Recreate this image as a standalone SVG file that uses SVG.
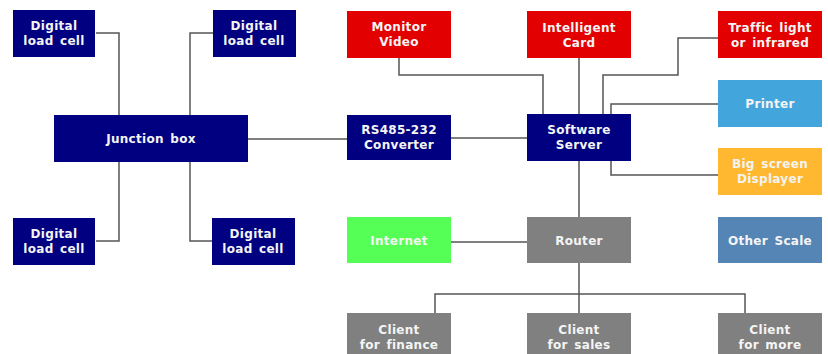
<svg xmlns="http://www.w3.org/2000/svg" width="828" height="354" viewBox="0 0 828 354">
<style>
text{font-family:"DejaVu Sans",Verdana,sans-serif;font-weight:bold;font-size:12px;fill:#f4f4f4;text-anchor:middle;word-spacing:2px;letter-spacing:0.3px}
.navy{fill:#000080}.red{fill:#e30000}.gray{fill:#808080}
.c{fill:none;stroke:#555;stroke-width:1.5}
</style>
<rect width="828" height="354" fill="#fff"/>
<g id="connectors">
<polyline class="c" points="96,33 119,33 119,115"/>
<polyline class="c" points="213,33 190,33 190,115"/>
<polyline class="c" points="96,241 119,241 119,162"/>
<polyline class="c" points="212,241 190,241 190,162"/>
<line class="c" x1="248" y1="139" x2="347" y2="139"/>
<line class="c" x1="451" y1="138" x2="527" y2="138"/>
<polyline class="c" points="399,58 399,75 543,75 543,114"/>
<line class="c" x1="579" y1="58" x2="579" y2="114"/>
<polyline class="c" points="718,38 678,38 678,75 603,75 603,114"/>
<polyline class="c" points="718,104 611,104 611,114"/>
<polyline class="c" points="718,175 611,175 611,161"/>
<line class="c" x1="579" y1="161" x2="579" y2="217"/>
<line class="c" x1="451" y1="242" x2="527" y2="242"/>
<line class="c" x1="579" y1="263" x2="579" y2="313"/>
<polyline class="c" points="435,313 435,294 745,294 745,313"/>
</g>
<g id="cell-tl"><rect class="navy" x="13" y="10" width="82" height="47"/><text x="54" y="30">Digital</text><text x="54" y="45">load cell</text></g>
<g id="cell-tr"><rect class="navy" x="213" y="10" width="83" height="47"/><text x="254" y="30">Digital</text><text x="254" y="45">load cell</text></g>
<g id="cell-bl"><rect class="navy" x="13" y="218" width="82" height="47"/><text x="54" y="238">Digital</text><text x="54" y="253">load cell</text></g>
<g id="cell-br"><rect class="navy" x="212" y="218" width="83" height="47"/><text x="253" y="238">Digital</text><text x="253" y="253">load cell</text></g>
<g id="junction"><rect class="navy" x="54" y="115" width="194" height="47"/><text x="151" y="143">Junction box</text></g>
<g id="monitor"><rect class="red" x="347" y="11" width="104" height="47"/><text x="399" y="31">Monitor</text><text x="399" y="46">Video</text></g>
<g id="card"><rect class="red" x="527" y="11" width="104" height="47"/><text x="579" y="32">Intelligent</text><text x="579" y="47">Card</text></g>
<g id="traffic"><rect class="red" x="718" y="11" width="104" height="47"/><text x="770" y="32">Traffic light</text><text x="770" y="47">or infrared</text></g>
<g id="printer"><rect fill="#42a6dc" x="718" y="80" width="104" height="47"/><text x="770" y="108">Printer</text></g>
<g id="bigscreen"><rect fill="#ffb830" x="718" y="148" width="104" height="47"/><text x="770" y="168">Big screen</text><text x="770" y="183">Displayer</text></g>
<g id="rs485"><rect class="navy" x="347" y="115" width="104" height="45"/><text x="399" y="134">RS485-232</text><text x="399" y="149">Converter</text></g>
<g id="server"><rect class="navy" x="527" y="114" width="104" height="47"/><text x="579" y="134">Software</text><text x="579" y="149">Server</text></g>
<g id="internet"><rect fill="#55ff55" x="347" y="217" width="104" height="46"/><text x="399" y="245">Internet</text></g>
<g id="router"><rect class="gray" x="527" y="217" width="104" height="46"/><text x="579" y="245">Router</text></g>
<g id="other"><rect fill="#5585b5" x="718" y="217" width="104" height="46"/><text x="770" y="245">Other Scale</text></g>
<g id="client-finance"><rect class="gray" x="347" y="313" width="104" height="47"/><text x="399" y="334">Client</text><text x="399" y="349">for finance</text></g>
<g id="client-sales"><rect class="gray" x="527" y="313" width="104" height="47"/><text x="579" y="334">Client</text><text x="579" y="349">for sales</text></g>
<g id="client-more"><rect class="gray" x="718" y="313" width="104" height="47"/><text x="770" y="334">Client</text><text x="770" y="349">for more</text></g>
</svg>
